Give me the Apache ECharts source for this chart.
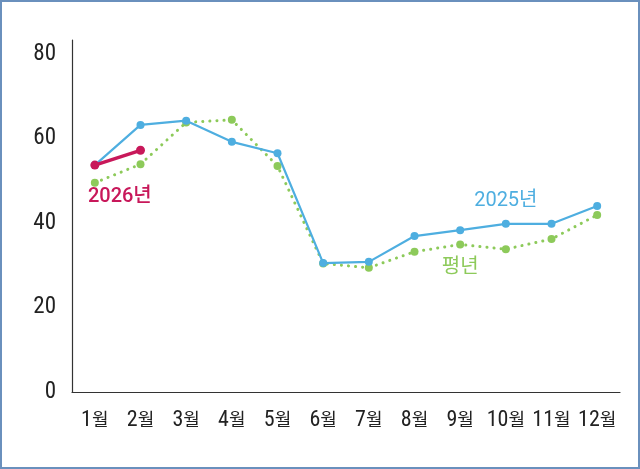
<!DOCTYPE html>
<html>
<head>
<meta charset="utf-8">
<script src="https://cdn.jsdelivr.net/npm/echarts@6/dist/echarts.min.js"></script>
<style>
  html, body { margin: 0; padding: 0; background: #fff; }
  #chart { width: 636px; height: 465px; border: 2px solid #6a90bd; }
</style>
</head>
<body>
<div id="chart"></div>
<script>
  // 월별 값
  let months = ['1월', '2월', '3월', '4월', '5월', '6월', '7월', '8월', '9월', '10월', '11월', '12월'];
  let y2025 = [53.7, 63.2, 64.2, 59.2, 56.5, 30.5, 30.8, 36.9, 38.3, 39.8, 39.8, 44.0];
  let normal = [49.5, 53.9, 63.8, 64.4, 53.5, 30.4, 29.4, 33.2, 34.9, 33.8, 36.2, 41.9];
  let y2026 = [53.7, 57.2];

  let blue = '#4eaee0';
  let green = '#8dca5a';
  let red = '#c8185a';
  let font = '"Liberation Sans Narrow", "Roboto Condensed", sans-serif';
  let kfont = '"Noto Sans CJK KR", sans-serif';

  function tagged(values, idx, text, color, offset, weight) {
      return values.map(function (v, i) {
          if (i !== idx) return v;
          return {
              value: v,
              label: {
                  show: true,
                  position: 'inside',
                  offset: offset,
                  formatter: text,
                  color: color,
                  fontSize: 20,
                  fontWeight: weight,
                  fontFamily: '"Roboto", "Noto Sans CJK KR", sans-serif'
              }
          };
      });
  }

  let myChart = echarts.init(document.getElementById('chart'));
  myChart.setOption({
      animation: false,
      grid: {left: 70, right: 18, top: 38, bottom: 75},
      xAxis: {
          type: 'category',
          data: months,
          boundaryGap: true,
          axisLine: {lineStyle: {color: '#333', width: 1.2}},
          axisTick: {show: false},
          axisLabel: {
              interval: 0,
              margin: 17,
              formatter: function (v) {
                  return '{n|' + v.replace('월', '') + '}{m|월}';
              },
              rich: {
                  n: {color: '#222', fontSize: 22, fontFamily: font},
                  m: {color: '#222', fontSize: 18, fontFamily: kfont, padding: [0, 0, 2, 0]}
              }
          }
      },
      yAxis: {
          type: 'value',
          min: 0,
          max: 83.3,
          interval: 20,
          splitLine: {show: false},
          axisLine: {show: true, lineStyle: {color: '#333', width: 1.2}},
          axisTick: {show: false},
          axisLabel: {color: '#222', fontSize: 23, fontFamily: font, margin: 16, showMaxLabel: false}
      },
      series: [
          {
              name: '평년',
              type: 'line',
              data: tagged(normal, 8, '평년', green, [0, 23], 'normal'),
              symbol: 'circle',
              symbolSize: 8,
              itemStyle: {color: green},
              lineStyle: {color: green, width: 3, type: [0.1, 7], cap: 'round'},
              z: 2
          },
          {
              name: '2025년',
              type: 'line',
              data: tagged(y2025, 9, '2025년', blue, [0, -23], 'normal'),
              symbol: 'circle',
              symbolSize: 8,
              itemStyle: {color: blue},
              lineStyle: {color: blue, width: 2.2},
              z: 3
          },
          {
              name: '2026년',
              type: 'line',
              data: tagged(y2026, 0, '2026년', red, [25, 32], 500),
              symbol: 'circle',
              symbolSize: 9,
              itemStyle: {color: red},
              lineStyle: {color: red, width: 3.5},
              z: 4
          }
      ]
  });
</script>
</body>
</html>
